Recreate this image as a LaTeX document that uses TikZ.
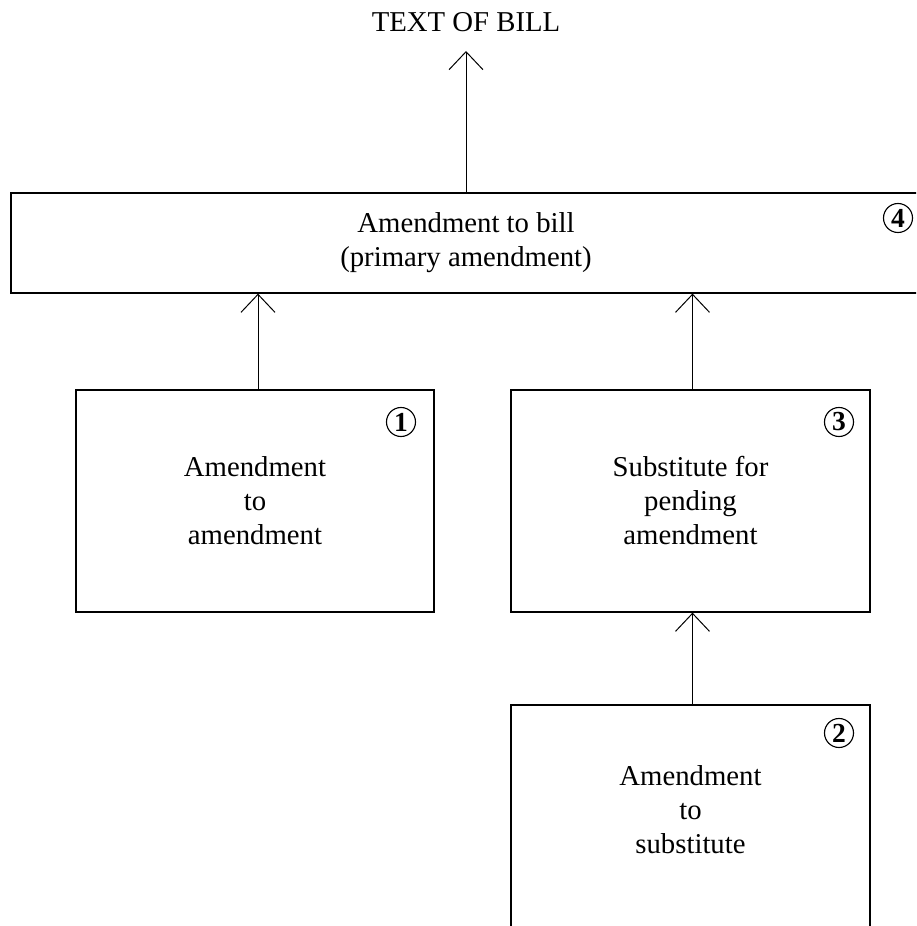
\documentclass[tikz,border=0pt]{standalone}
\usepackage{fontspec}
\setmainfont{Liberation Serif}
\usetikzlibrary{arrows.meta}
\newcommand{\pu}{0.4pt}

\begin{document}
\begin{tikzpicture}[x=0.4pt, y=-0.4pt,
    box/.style={rectangle, draw, line width=0.5pt, align=center,
        font=\fontsize{11.5}{13.6}\selectfont},
    num/.style={circle, draw, line width=0.45pt, inner sep=0.6pt, minimum size=11.6pt,
        font=\fontsize{11}{12}\selectfont\bfseries},
    >={Straight Barb[length=7.2pt,width=13.6pt]}]
        \useasboundingbox (0, 0) rectangle (916, 926);
        \clip (0, 0) rectangle (916, 926);

        \node[font=\fontsize{11.5}{13.6}\selectfont] (bill) at (466, 22) {TEXT OF BILL};
        \coordinate (billtip) at (466, 51);

        \node[box, minimum width=910*\pu, minimum height=100*\pu] (primary) at (466, 243) {Amendment to bill\\(primary amendment)};
        \node[box, minimum width=358*\pu, minimum height=222*\pu] (amdone) at (255, 501) {Amendment\\to\\amendment};
        \node[box, minimum width=359*\pu, minimum height=222*\pu] (subst) at (690.5, 501) {Substitute for\\pending\\amendment};
        \node[box, minimum width=359*\pu, minimum height=224*\pu] (amdsub) at (690.5, 817) {};
        \node[align=center, font=\fontsize{11.5}{13.6}\selectfont] (amdsubtext) at (690.5, 810) {Amendment\\to\\substitute};

        \node[num] (numfour) at (898, 218) {4};
        \node[num] (numone) at (401, 422) {1};
        \node[num] (numthree) at (839, 422) {3};
        \node[num] (numtwo) at (839, 733) {2};

        \draw [->, line width=0.4pt] (primary.north) -- (billtip);
        \draw [->, line width=0.4pt] ([xshift=3*\pu]amdone.north) -- ([xshift=3*\pu]amdone.north |- primary.south);
        \draw [->, line width=0.4pt] ([xshift=2*\pu]subst.north) -- ([xshift=2*\pu]subst.north |- primary.south);
        \draw [->, line width=0.4pt] ([xshift=2*\pu]amdsub.north) -- ([xshift=2*\pu]subst.south);
\end{tikzpicture}
\end{document}
